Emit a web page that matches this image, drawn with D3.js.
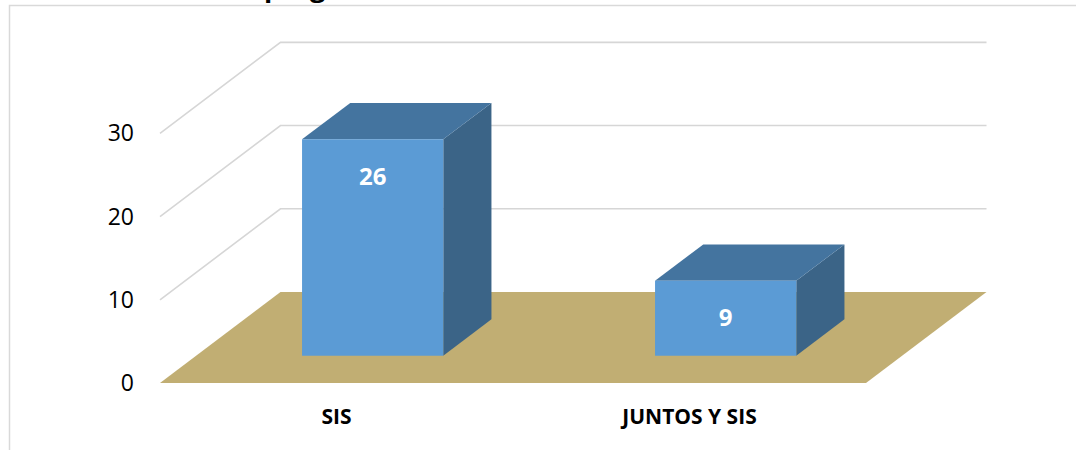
<!DOCTYPE html>
<html>
<head>
<meta charset="utf-8">
<script src="https://cdn.jsdelivr.net/npm/d3@7"></script>
<style>
  html, body { margin: 0; padding: 0; background: #fff; }
  svg { display: block; }
</style>
</head>
<body>
<svg id="chart" width="1076" height="450"></svg>
<script>
const categories = ["SIS", "JUNTOS Y SIS"];
const values = [26, 9];
const tickValues = [0, 10, 20, 30];
const titleText = "programas sociales";

const W = 1076, H = 450;
const svg = d3.select("#chart");

// 3D frame parameters
const depthDX = 120.5, depthDY = 91;
const barZ0 = 0.3, barZ1 = 0.7;

const x = d3.scaleBand().domain(categories).range([160, 866]).paddingInner(0.6).paddingOuter(0.3);
const y = d3.scaleLinear().domain([0, 30]).range([383, 133.33]);

const P = (px, v, z) => [px + z * depthDX, y(v) - z * depthDY];

// outer border
svg.append("rect").attr("x", 9.5).attr("y", 5.5).attr("width", 1100).attr("height", 500)
  .attr("fill", "none").attr("stroke", "#d9d9d9").attr("stroke-width", 1.5);

// title (mostly cut off at top, as in the reference)
svg.append("text").attr("x", 264).attr("y", -3)
  .attr("font-family", "Open Sans, sans-serif").attr("font-weight", "bold").attr("font-size", 27)
  .attr("fill", "#000").text(titleText);

const x0 = x.range()[0], x1 = x.range()[1];

// floor
const floorPts = [P(x0, 0, 0), P(x1, 0, 0), P(x1, 0, 1), P(x0, 0, 1)];
svg.append("polygon").attr("points", floorPts.map(p => p.join(",")).join(" "))
  .attr("fill", "#c1ae73");

// gridlines: side wall diagonal + back wall horizontal
const grid = svg.append("g").attr("fill", "none").attr("stroke", "#d6d6d6").attr("stroke-width", 1.6);
tickValues.filter(v => v > 0).forEach(v => {
  const pts = [P(x0, v, 0), P(x0, v, 1), P(x1, v, 1)];
  grid.append("polyline").attr("points", pts.map(p => p.join(",")).join(" "));
});

// y tick labels
svg.append("g").selectAll("text").data(tickValues).join("text")
  .attr("x", 134).attr("y", d => y(d)).attr("dy", "0.35em")
  .attr("text-anchor", "end")
  .attr("font-family", "Open Sans, sans-serif").attr("font-size", 23).attr("fill", "#000")
  .text(d => d);

// bars
const bars = svg.append("g");
categories.forEach((c, i) => {
  const v = values[i];
  const bx0 = x(c), bx1 = x(c) + x.bandwidth();
  const g = bars.append("g");
  const poly = (pts, fill) => g.append("polygon").attr("points", pts.map(p => p.join(",")).join(" ")).attr("fill", fill);
  // right side
  poly([P(bx1, 0, barZ0), P(bx1, 0, barZ1), P(bx1, v, barZ1), P(bx1, v, barZ0)], "#3b6487");
  // top
  poly([P(bx0, v, barZ0), P(bx1, v, barZ0), P(bx1, v, barZ1), P(bx0, v, barZ1)], "#44749f");
  // front
  poly([P(bx0, 0, barZ0), P(bx1, 0, barZ0), P(bx1, v, barZ0), P(bx0, v, barZ0)], "#5b9bd5");
  // value label
  const top = P((bx0 + bx1) / 2, v, barZ0);
  g.append("text").attr("x", top[0]).attr("y", top[1] + 37).attr("dy", "0.35em")
    .attr("text-anchor", "middle")
    .attr("font-family", "Open Sans, sans-serif").attr("font-weight", "bold").attr("font-size", 24)
    .attr("fill", "#fff").text(v);
});

// category labels
svg.append("g").selectAll("text").data(categories).join("text")
  .attr("x", d => x(d) + x.bandwidth() / 2).attr("y", 417).attr("dy", "0.35em")
  .attr("text-anchor", "middle")
  .attr("font-family", "Open Sans, sans-serif").attr("font-weight", "bold").attr("font-size", 21)
  .attr("fill", "#000").text(d => d);
</script>
</body>
</html>
